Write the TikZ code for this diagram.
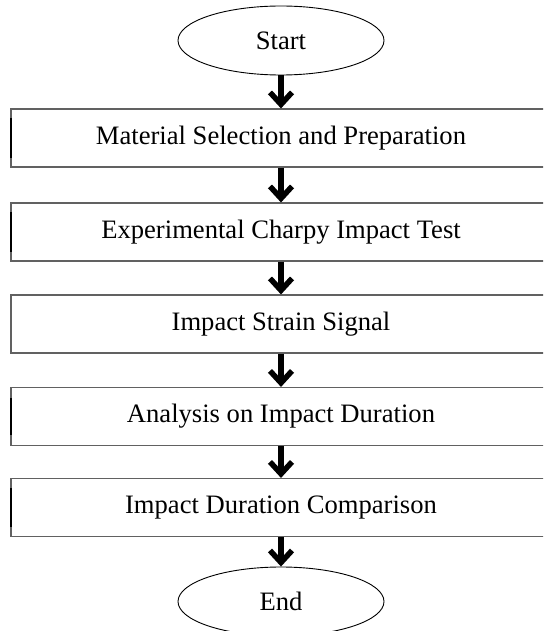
\documentclass[tikz,border=0pt]{standalone}
\usepackage{fontspec}
\setmainfont{Liberation Serif}
\usetikzlibrary{shapes.geometric,arrows.meta}
\begin{document}
\begin{tikzpicture}[x=1pt,y=-1pt,
  every node/.style={font=\fontsize{26.6}{30}\selectfont, inner sep=0pt},
  terminal/.style={ellipse, draw=black, line width=0.9pt, minimum width=206pt, minimum height=69pt},
  stepbox/.style={rectangle, draw=black!62, line width=1.1pt, minimum width=540pt, minimum height=58pt},
  flow/.style={line width=5.5pt, -{Straight Barb[length=12pt, width=22pt]}},
  edgemark/.style={line width=1.3pt, black}]
\useasboundingbox (0,0) rectangle (543,631);
\clip (0,0) rectangle (543,631);
\node[terminal] (start) at (281,40.5) {Start};
\node[stepbox] (b1) at (281,138) {Material Selection and Preparation};
\node[stepbox] (b2) at (281,232) {Experimental Charpy Impact Test};
\node[stepbox] (b3) at (281,324) {Impact Strain Signal};
\node[stepbox] (b4) at (281,416.5) {Analysis on Impact Duration};
\node[stepbox] (b5) at (281,507.5) {Impact Duration Comparison};
\node[terminal] (end) at (281,601.5) {End};
\draw[flow] (start.south) -- (b1.north);
\draw[flow] (b1.south) -- (b2.north);
\draw[flow] (b2.south) -- (b3.north);
\draw[flow] (b3.south) -- (b4.north);
\draw[flow] (b4.south) -- (b5.north);
\draw[flow] (b5.south) -- (end.north);
\coordinate (m1a) at (11,118); \coordinate (m1b) at (11,158);
\coordinate (m2a) at (11,212); \coordinate (m2b) at (11,252);
\coordinate (m4a) at (11,398); \coordinate (m4b) at (11,435);
\coordinate (m5a) at (11,488); \coordinate (m5b) at (11,527);
\draw[edgemark] (m1a) -- (m1b);
\draw[edgemark] (m2a) -- (m2b);
\draw[edgemark] (m4a) -- (m4b);
\draw[edgemark] (m5a) -- (m5b);
\end{tikzpicture}
\end{document}
